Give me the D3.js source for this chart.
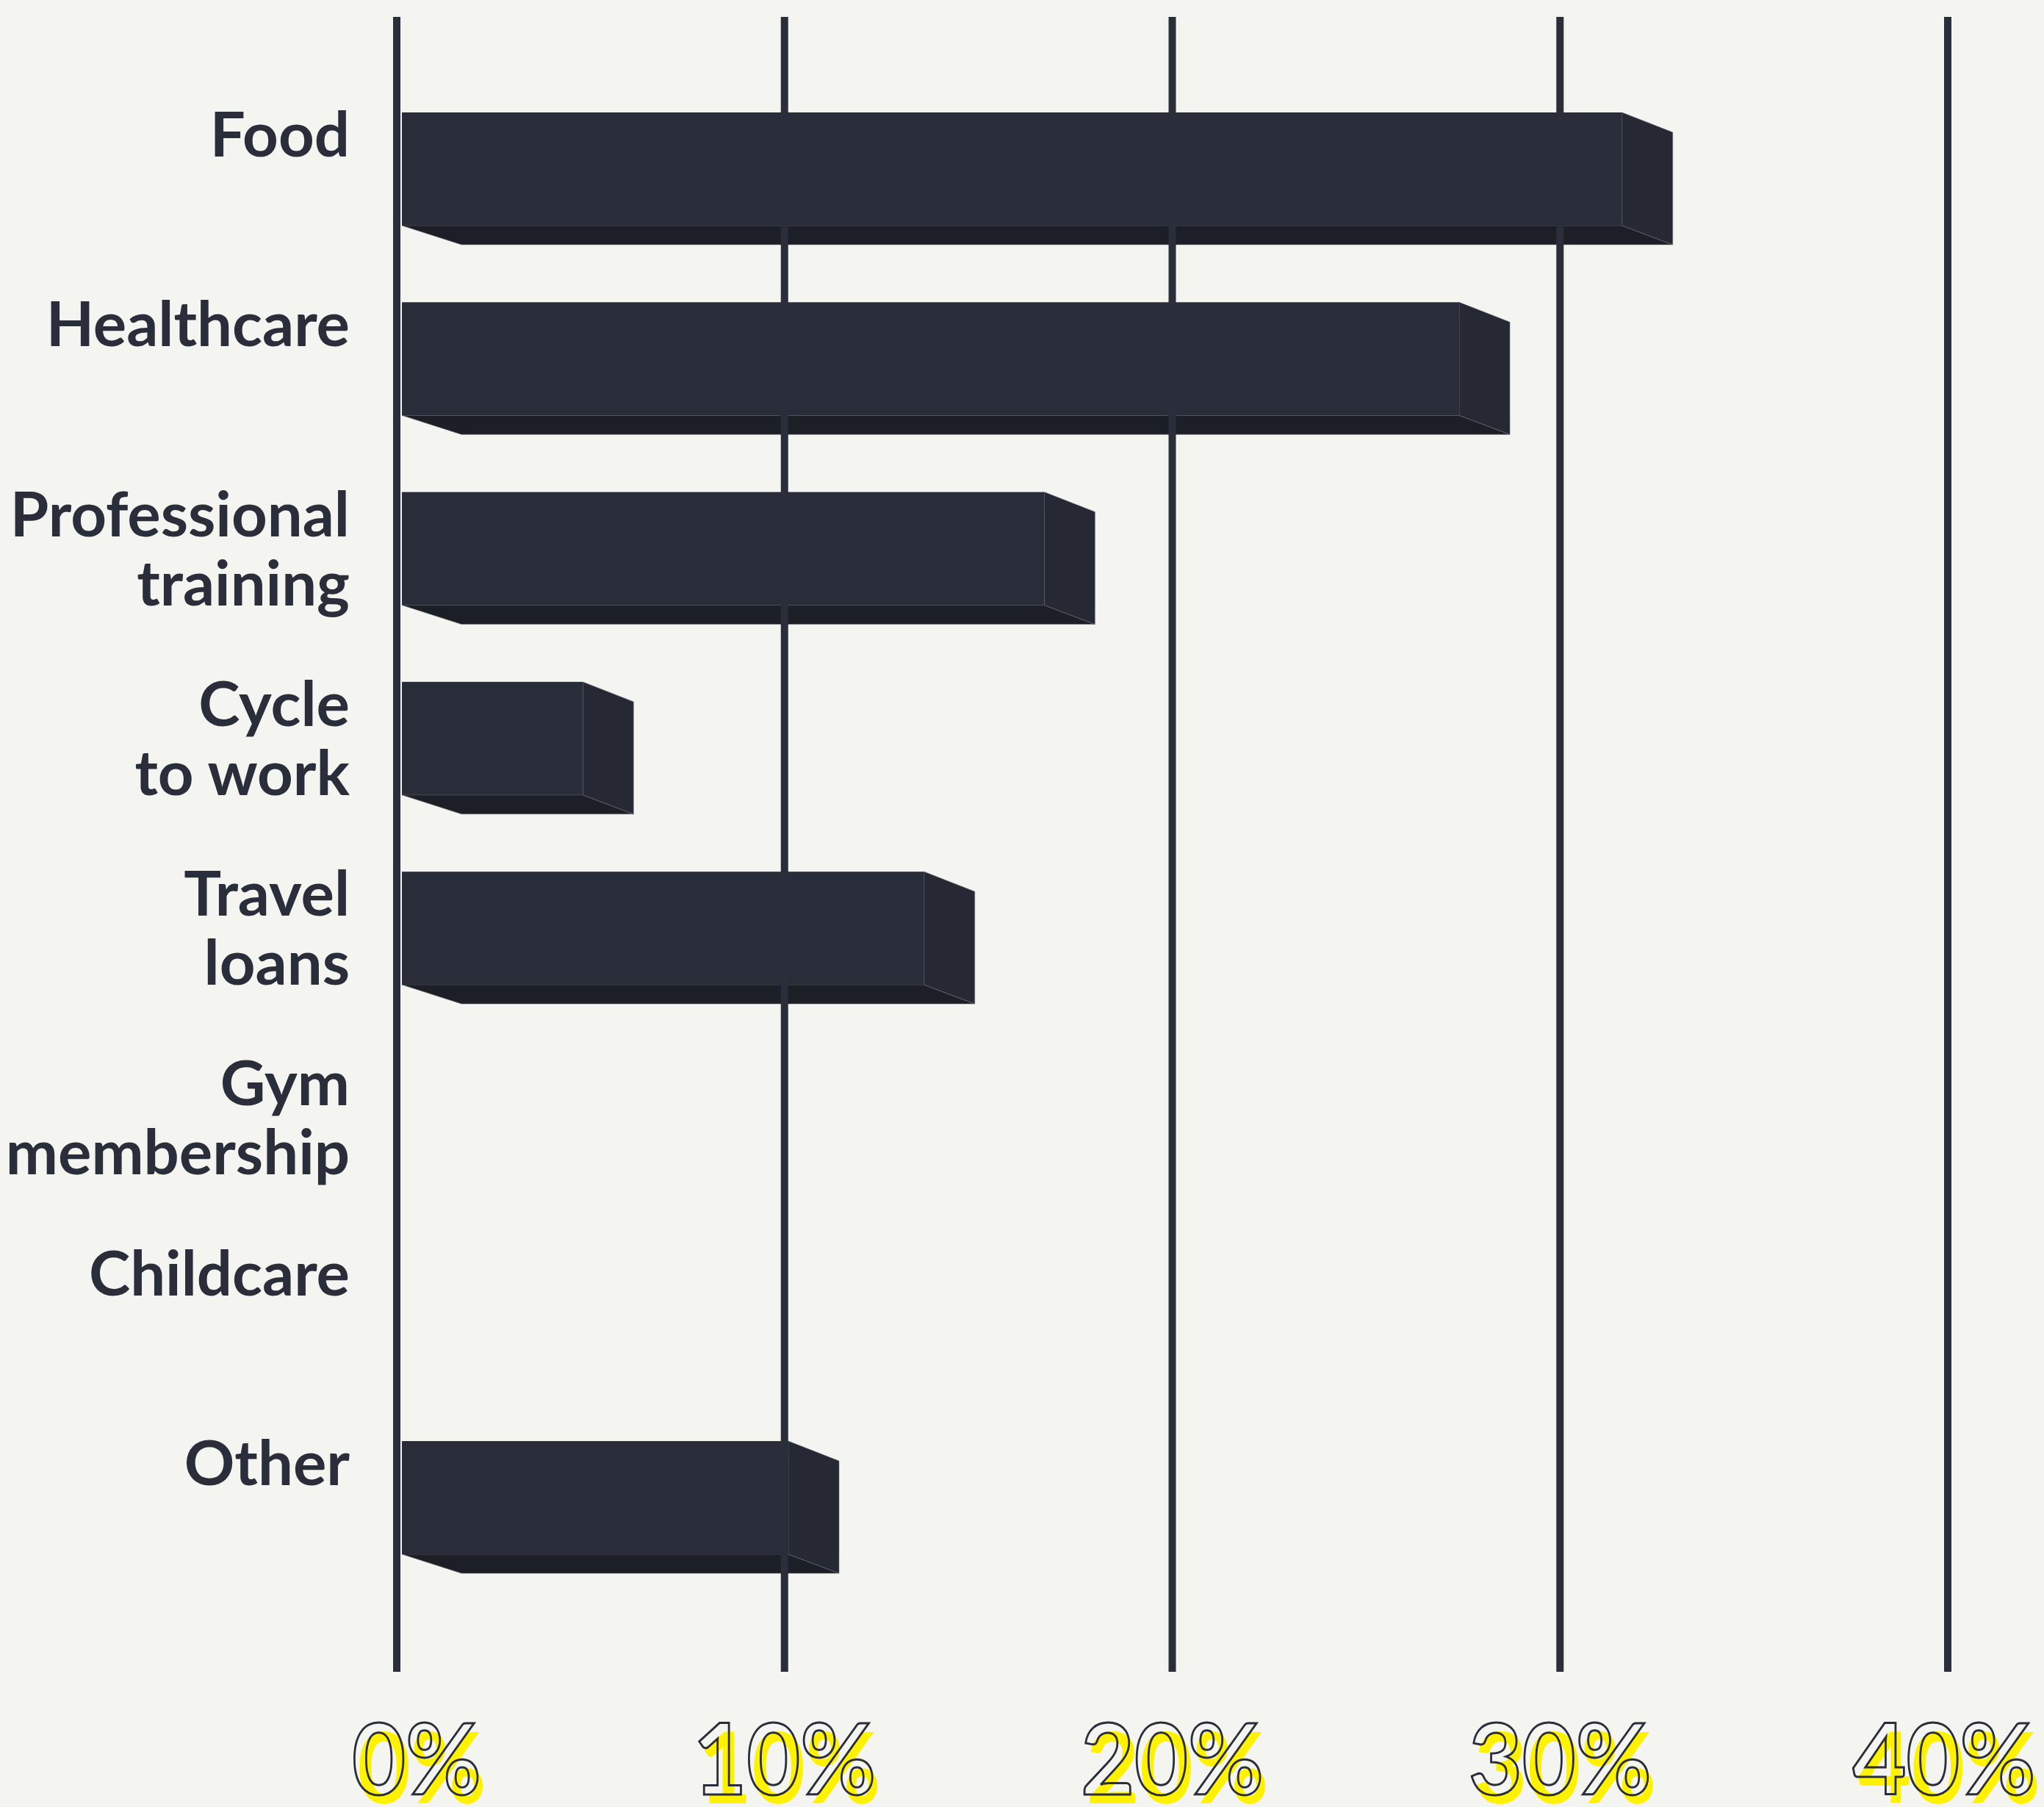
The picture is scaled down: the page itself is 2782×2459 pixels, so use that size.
<!DOCTYPE html>
<html>
<head>
<meta charset="utf-8">
<script src="https://cdn.jsdelivr.net/npm/d3@7/dist/d3.min.js"></script>
<style>
  html, body { margin: 0; padding: 0; background: #f4f5f0; }
  svg { display: block; }
</style>
</head>
<body>
<script>
// Share of respondents choosing each benefit
const categories = ["Food", "Healthcare", "Professional\ntraining", "Cycle\nto work",
                    "Travel\nloans", "Gym\nmembership", "Childcare", "Other"];
const values = [31.6, 27.4, 16.7, 4.8, 13.6, 0, 0, 10.1];
const tickValues = [0, 10, 20, 30, 40];
const tickLabels = ["0%", "10%", "20%", "30%", "40%"];

const W = 2782, H = 2459;
const ink = "#2a2e3a";
const colFront = "#282d39", colSide = "#262933", colBottom = "#1d1f26";

const svg = d3.select("body").append("svg")
  .attr("width", W).attr("height", H)
  .style("background", "#f4f5f0");

const x = d3.scaleLinear().domain([0, 40]).range([540, 2651]);
const y = d3.scaleBand().domain(categories)
  .range([153, 2115]).paddingInner(0.404).paddingOuter(0).align(0);

const gridTop = 23, gridBottom = 2275;
const depthBottom = { left: 81, right: 69, dy: 26 };   // extrusion of bottom face
const sideDx = 69, sideDy = 27;                       // extrusion of end face
const barGap = 7;                                      // space between axis line and bar

// category labels
const labelX = 476;
const labels = svg.append("g")
  .attr("font-family", "Lato, 'Noto Sans', sans-serif")
  .attr("font-weight", 700)
  .attr("font-size", 85)
  .attr("fill", ink)
  .attr("text-anchor", "end");

labels.selectAll("text").data(categories).join("text")
  .attr("x", labelX)
  .attr("y", d => y(d) + 60)
  .each(function(d) {
    d3.select(this).selectAll("tspan").data(d.split("\n")).join("tspan")
      .attr("x", labelX)
      .attr("dy", (t, i) => i === 0 ? 0 : 94)
      .text(t => t);
  });

// 3D bars
const rows = categories.map((c, i) => ({ c, v: values[i] })).filter(d => d.v > 0);
const bars = svg.append("g");
const bw = y.bandwidth();

rows.forEach(d => {
  const x0 = x(0) + barGap, x1 = x(d.v);
  const top = y(d.c), bot = top + bw;
  const g = bars.append("g");
  // bottom face
  g.append("path")
    .attr("d", d3.line()([[x0, bot], [x0 + depthBottom.left, bot + depthBottom.dy],
                         [x1 + sideDx, bot + depthBottom.dy], [x1, bot]]) + "Z")
    .attr("fill", colBottom)
    .attr("stroke", "rgba(110,112,122,0.55)").attr("stroke-width", 1);
  // end face
  g.append("path")
    .attr("d", d3.line()([[x1, top], [x1 + sideDx, top + sideDy],
                         [x1 + sideDx, bot + depthBottom.dy], [x1, bot]]) + "Z")
    .attr("fill", colSide)
    .attr("stroke", "rgba(110,112,122,0.55)").attr("stroke-width", 1);
  // front face
  g.append("rect")
    .attr("x", x0).attr("y", top)
    .attr("width", x1 - x0).attr("height", bw)
    .attr("fill", colFront);
});

// vertical grid lines, drawn over the bars
svg.append("g").selectAll("line").data(tickValues).join("line")
  .attr("x1", d => x(d)).attr("x2", d => x(d))
  .attr("y1", gridTop).attr("y2", gridBottom)
  .attr("stroke", ink).attr("stroke-width", 10);

// outlined percentage labels with a yellow offset shadow, set slightly condensed
const tickG = svg.append("g")
  .attr("font-family", "Lato, 'Noto Sans', sans-serif")
  .attr("font-weight", 700)
  .attr("font-size", 135)
  .attr("text-anchor", "middle");

// first label nudged clear of the label column, last one kept inside the frame
const tickX = (d, i) => x(d) + (i === 0 ? 27 : i === tickValues.length - 1 ? -5 : 0);
const tickY = 2442;
const condense = 0.93;

tickG.selectAll("text.shadow").data(tickValues).join("text")
  .attr("class", "shadow")
  .attr("transform", (d, i) => `translate(${tickX(d, i) + 7},${tickY + 12}) scale(${condense},1)`)
  .attr("fill", "#fff200")
  .text((d, i) => tickLabels[i]);

tickG.selectAll("text.outline").data(tickValues).join("text")
  .attr("class", "outline")
  .attr("transform", (d, i) => `translate(${tickX(d, i)},${tickY}) scale(${condense},1)`)
  .attr("fill", "none")
  .attr("stroke", ink)
  .attr("stroke-width", 3)
  .text((d, i) => tickLabels[i]);
</script>
</body>
</html>
